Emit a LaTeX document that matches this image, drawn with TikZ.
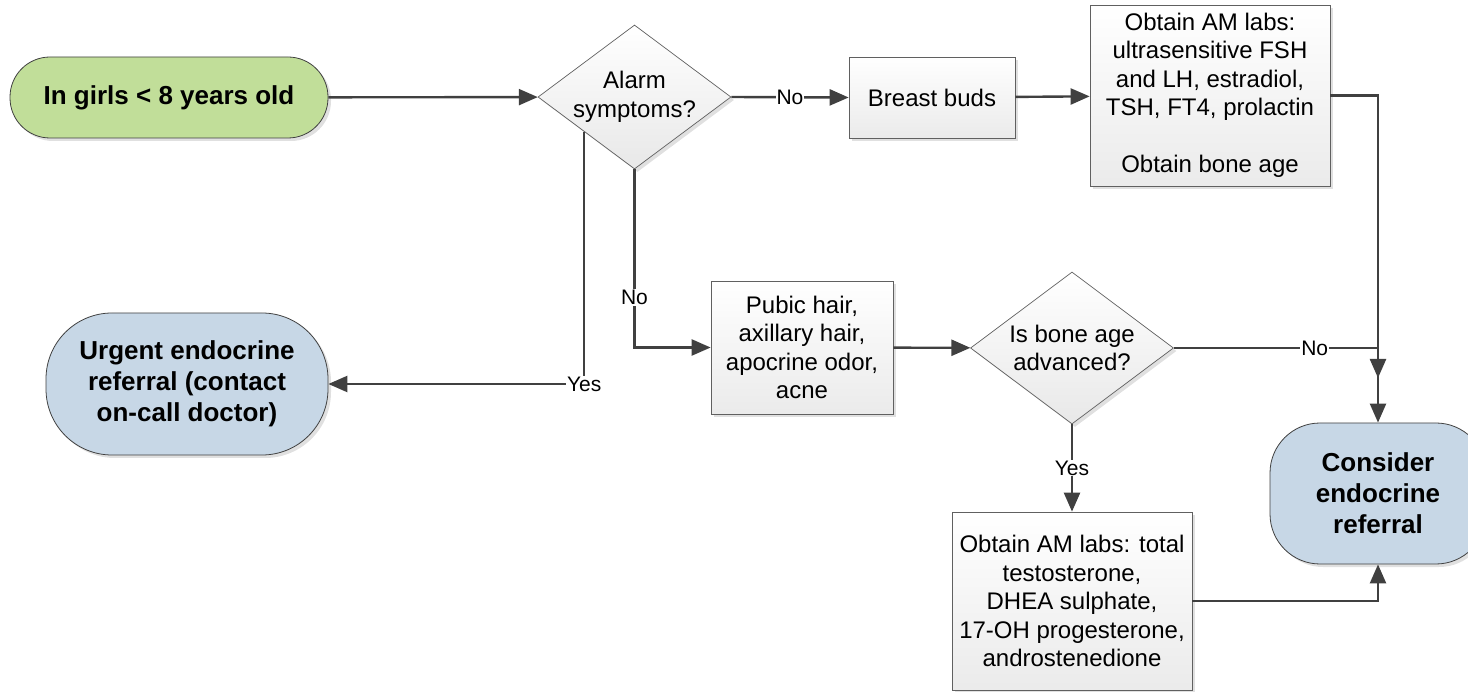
\documentclass[tikz,border=0pt]{standalone}
\usepackage{fontspec}
\setmainfont{Liberation Sans}
\usetikzlibrary{shapes.geometric,arrows.meta,shadows,calc}
\definecolor{startgreen}{RGB}{193,222,153}
\definecolor{endblue}{RGB}{199,215,230}
\definecolor{linegray}{RGB}{64,64,64}
\tikzset{
	shade/.style={drop shadow={shadow xshift=3pt,shadow yshift=-3pt,fill=gray!70,opacity=.35}},
	box/.style={rectangle,draw=gray!75!black,line width=.7pt,top color=white,bottom color=gray!16,shade,
		inner sep=0pt,align=center,font=\fontsize{24}{28.5}\selectfont},
	decision/.style={diamond,draw=gray!75!black,line width=.7pt,top color=white,bottom color=gray!18,shade,inner sep=0pt},
	terminal/.style={rectangle,draw=linegray,line width=.8pt,shade,inner sep=0pt,align=center,
		font=\bfseries\fontsize{26}{31}\selectfont},
	conn/.style={draw=linegray,line width=2.4pt,-{Triangle[length=19pt,width=16pt]}},
	lbl/.style={fill=white,inner sep=1pt,font=\fontsize{21}{24}\selectfont}
}
\begin{document}
\begin{tikzpicture}[x=1pt,y=-1pt]
		% page
			\path[use as bounding box,clip] (0,0) rectangle (1468,692);
		% start and end
			\node[terminal,fill=startgreen,rounded corners=40pt,minimum width=318pt,minimum height=81pt] (start) at (169,97.5) {In girls < 8 years old};
			\node[terminal,fill=endblue,rounded corners=66pt,minimum width=282pt,minimum height=142pt] (urgent) at (187,384) {Urgent endocrine\\referral (contact\\on-call doctor)};
			\node[terminal,fill=endblue,rounded corners=50pt,minimum width=216pt,minimum height=141pt] (consider) at (1378,493.5) {Consider\\endocrine\\referral};
		% questions
			\node[decision,minimum width=193pt,minimum height=144pt,
				label={[align=center,font=\fontsize{24}{28.5}\selectfont]center:Alarm\\symptoms?}] (alarm) at (634.5,97) {};
			\node[decision,minimum width=203pt,minimum height=152pt,
				label={[align=center,font=\fontsize{24}{28.5}\selectfont]center:Is bone age\\advanced?}] (boneage) at (1072,348) {};
		% steps
			\node[box,minimum width=166pt,minimum height=81pt] (breast) at (932,97.5) {Breast buds};
			\node[box,minimum width=240pt,minimum height=181pt] (labs) at (1210,95.5) {Obtain AM labs:\\ultrasensitive FSH\\and LH, estradiol,\\TSH, FT4, prolactin\\[28.5pt]Obtain bone age};
			\node[box,minimum width=182pt,minimum height=133pt] (pubic) at (802,347.5) {Pubic hair,\\axillary hair,\\apocrine odor,\\acne};
			\node[box,minimum width=240pt,minimum height=178pt] (tests) at (1072,601) {Obtain AM labs: total\\testosterone,\\DHEA sulphate,\\17-OH progesterone,\\androstenedione};
		% connectors
			\coordinate (yesstart) at ($(alarm.west)!.48!(alarm.south)$);
			\coordinate (joint) at (consider.north |- boneage.east);
			\coordinate (stop) at ($(joint)+(0,30)$);
			\draw[conn] (start) -- (alarm);
			\draw[conn] (alarm.east) -- node[lbl,pos=.5]{No} (breast.west);
			\draw[conn] (breast) -- (labs);
			\draw[conn] (labs.east) -| (consider.north);
			\draw[conn] (alarm.south) |- node[lbl,pos=.36]{No} (pubic.west);
			\draw[conn] (yesstart) |- node[lbl,pos=.5]{Yes} (urgent.east);
			\draw[conn] (pubic) -- (boneage);
			\draw[conn] (boneage.east) -- node[lbl,pos=.69]{No} (joint) -- (stop);
			\draw[conn] (boneage.south) -- node[lbl]{Yes} (tests.north);
			\draw[conn] (tests.east) -| (consider.south);
	\end{tikzpicture}
\end{document}
